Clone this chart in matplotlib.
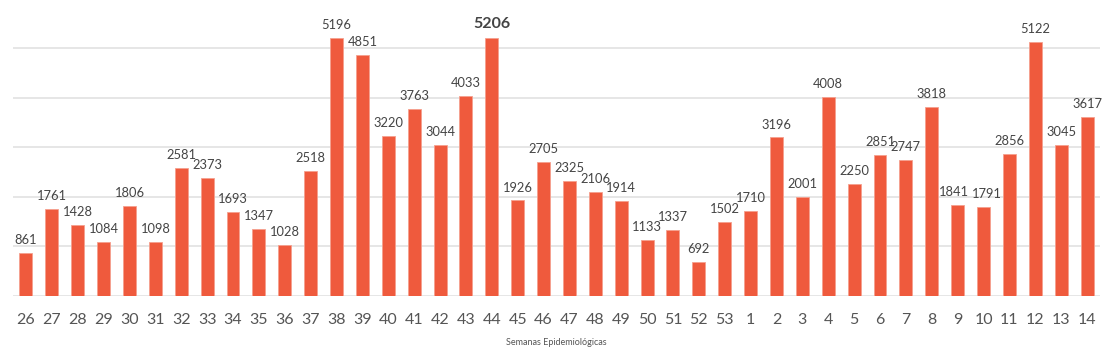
import matplotlib.pyplot as plt

weeks = ['26', '27', '28', '29', '30', '31', '32', '33', '34', '35', '36', '37', '38', '39',
         '40', '41', '42', '43', '44', '45', '46', '47', '48', '49', '50', '51', '52', '53',
         '1', '2', '3', '4', '5', '6', '7', '8', '9', '10', '11', '12', '13', '14']
cases = [861, 1761, 1428, 1084, 1806, 1098, 2581, 2373, 1693, 1347, 1028, 2518, 5196, 4851,
         3220, 3763, 3044, 4033, 5206, 1926, 2705, 2325, 2106, 1914, 1133, 1337, 692, 1502,
         1710, 3196, 2001, 4008, 2250, 2851, 2747, 3818, 1841, 1791, 2856, 5122, 3045, 3617]
highlight = '44'

# small sideways nudges (points) so close labels don't collide
nudge = {'9': -2.5, '10': 2.5}

W, H = 1114, 360
fig = plt.figure(figsize=(W / 100, H / 100), dpi=100)
ax = fig.add_axes([13 / W, (H - 296) / H, 1087 / W, 296 / H])

x = list(range(len(weeks)))
ax.bar(x, cases, width=0.5, color='#EF5A3D', edgecolor='#F5A08E', linewidth=0.6, zorder=3)

for xi, w, v in zip(x, weeks, cases):
    bold = w == highlight
    ax.annotate(str(v), (xi, v), xytext=(nudge.get(w, 0), 5), textcoords='offset points',
                ha='center', va='bottom', fontsize=11.5 if bold else 9.3,
                fontweight='bold' if bold else 'normal', color='#444444',
                family='Lato')

ax.set_xlim(-0.5, len(weeks) - 0.5)
ax.set_ylim(0, 296 / 248 * 5000)
ax.set_yticks([0, 1000, 2000, 3000, 4000, 5000])
ax.yaxis.grid(True, color='#e2e2e2', linewidth=1.2, zorder=0)
ax.tick_params(axis='y', left=False, labelleft=False)
ax.set_xticks(x)
ax.set_xticklabels(weeks, fontsize=11.5, color='#555555', family='Lato')
ax.tick_params(axis='x', length=0, pad=12)
for s in ax.spines.values():
    s.set_visible(False)

ax.set_xlabel('Semanas Epidemiológicas', fontsize=6.5, color='#555555', family='Lato', labelpad=8)

fig.savefig('out.png', dpi=100)
